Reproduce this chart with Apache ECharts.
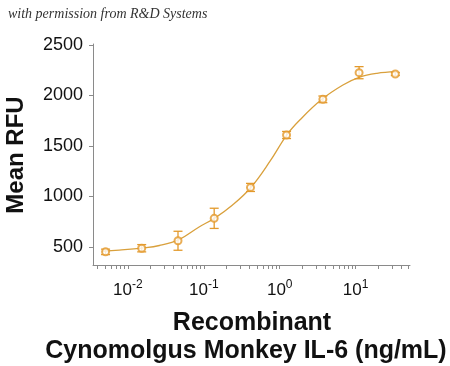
<!DOCTYPE html>
<html><head><meta charset="utf-8">
<script src="https://cdn.jsdelivr.net/npm/echarts@6/dist/echarts.min.js"></script>
<style>html,body{margin:0;padding:0;background:#fff}#c{width:450px;height:366px}</style>
</head><body><div id="c"></div>
<script>
// Data
const conc = [0.00508, 0.0152, 0.0457, 0.137, 0.412, 1.23, 3.70, 11.1, 33.3];
const rfu = [452, 488, 562, 784, 1090, 1609, 1962, 2226, 2213];
const err = [27, 36, 94, 100, 40, 35, 33, 60, 15];
const curveX = [0.00459, 0.0077, 0.0152, 0.026, 0.0478, 0.0877, 0.138, 0.239, 0.414, 0.738, 1.237, 1.837, 3.59, 6.8, 11.1, 19.1, 33.5];
const curveY = [458, 470, 490, 515, 576, 701, 784, 916, 1087, 1345, 1609, 1757, 1962, 2104, 2180, 2220, 2236];
const xMajor = [0.01, 0.1, 1, 10];
const xMinor = [0.004,0.005,0.006,0.007,0.008,0.009,0.02,0.03,0.04,0.05,0.06,0.07,0.08,0.09,0.2,0.3,0.4,0.5,0.6,0.7,0.8,0.9,2,3,4,5,6,7,8,9,20,30,40,50];
const yTicks = [500, 1000, 1500, 2000, 2500];

const ORANGE = '#e3992b';
const LINE = '#d9a03c';
const AXIS = '#8a8a8a';

const chart = echarts.init(document.getElementById('c'), null, {renderer: 'canvas'});
const sup = {'0.01':'-2','0.1':'-1','1':'0','10':'1'};
chart.setOption({
  animation: false,
  backgroundColor: '#fff',
  grid: {left: 93, right: 40, top: 44, bottom: 101, containLabel: false},
  xAxis: {
    type: 'log', min: 0.00347, max: 52,
    axisLine: {lineStyle: {color: AXIS, width: 1}},
    axisTick: {show: true, length: 4, lineStyle: {color: AXIS}, customValues: xMinor.concat(xMajor).sort((a,b)=>a-b)},
    axisLabel: {
      customValues: xMajor,
      margin: 14,
      formatter: v => '{b|10}{s|' + sup[String(+v.toPrecision(3))] + '}',
      rich: {
        b: {fontFamily: 'Liberation Sans, Arial', fontSize: 17, color: '#111', verticalAlign: 'bottom', lineHeight: 20},
        s: {fontFamily: 'Liberation Sans, Arial', fontSize: 12, color: '#111', verticalAlign: 'top', lineHeight: 20, padding: [0,0,8,0]}
      }
    },
    splitLine: {show: false}
  },
  yAxis: {
    type: 'value', min: 322, max: 2510,
    axisLine: {show: true, lineStyle: {color: AXIS, width: 1}},
    axisTick: {show: true, length: 4, lineStyle: {color: AXIS}, customValues: yTicks},
    axisLabel: {customValues: yTicks, formatter: v => String(v), fontFamily: 'Liberation Sans, Arial', fontSize: 18, color: '#111', margin: 10},
    splitLine: {show: false}
  },
  graphic: [
    {type: 'text', left: 8, top: 7, style: {text: 'with permission from R&D Systems', font: 'italic 14px "Liberation Serif", "DejaVu Serif", serif', fill: '#333'}},
    {type: 'text', x: 16, y: 155, rotation: Math.PI/2, style: {text: 'Mean RFU', font: 'bold 24px "Liberation Sans", Arial, sans-serif', fill: '#111', align: 'center', verticalAlign: 'middle'}},
    {type: 'text', x: 252, y: 323, style: {text: 'Recombinant', font: 'bold 25px "Liberation Sans", Arial, sans-serif', fill: '#111', align: 'center', verticalAlign: 'middle'}},
    {type: 'text', x: 246, y: 351, style: {text: 'Cynomolgus Monkey IL-6 (ng/mL)', font: 'bold 25px "Liberation Sans", Arial, sans-serif', fill: '#111', align: 'center', verticalAlign: 'middle'}}
  ],
  series: [
    {
      type: 'line', data: curveX.map((x,i)=>[x, curveY[i]]), smooth: 0.4, showSymbol: false,
      lineStyle: {color: LINE, width: 1.3}, z: 2
    },
    {
      type: 'custom', z: 3,
      data: conc.map((x,i)=>[x, rfu[i]-err[i], rfu[i]+err[i]]),
      renderItem: (params, api) => {
        const lo = api.coord([api.value(0), api.value(1)]);
        const hi = api.coord([api.value(0), api.value(2)]);
        const w = 4.5;
        const st = {stroke: ORANGE, lineWidth: 1.3, fill: null};
        return {type: 'group', children: [
          {type: 'line', shape: {x1: lo[0], y1: lo[1], x2: hi[0], y2: hi[1]}, style: st},
          {type: 'line', shape: {x1: lo[0]-w, y1: lo[1], x2: lo[0]+w, y2: lo[1]}, style: st},
          {type: 'line', shape: {x1: hi[0]-w, y1: hi[1], x2: hi[0]+w, y2: hi[1]}, style: st}
        ]};
      },
      encode: {x: 0, y: [1, 2]}
    },
    {
      type: 'scatter', data: conc.map((x,i)=>[x, rfu[i]]), symbol: 'emptyCircle', symbolSize: 7,
      itemStyle: {color: ORANGE, borderColor: ORANGE, borderWidth: 1.2}, z: 4
    }
  ]
});
</script></body></html>
